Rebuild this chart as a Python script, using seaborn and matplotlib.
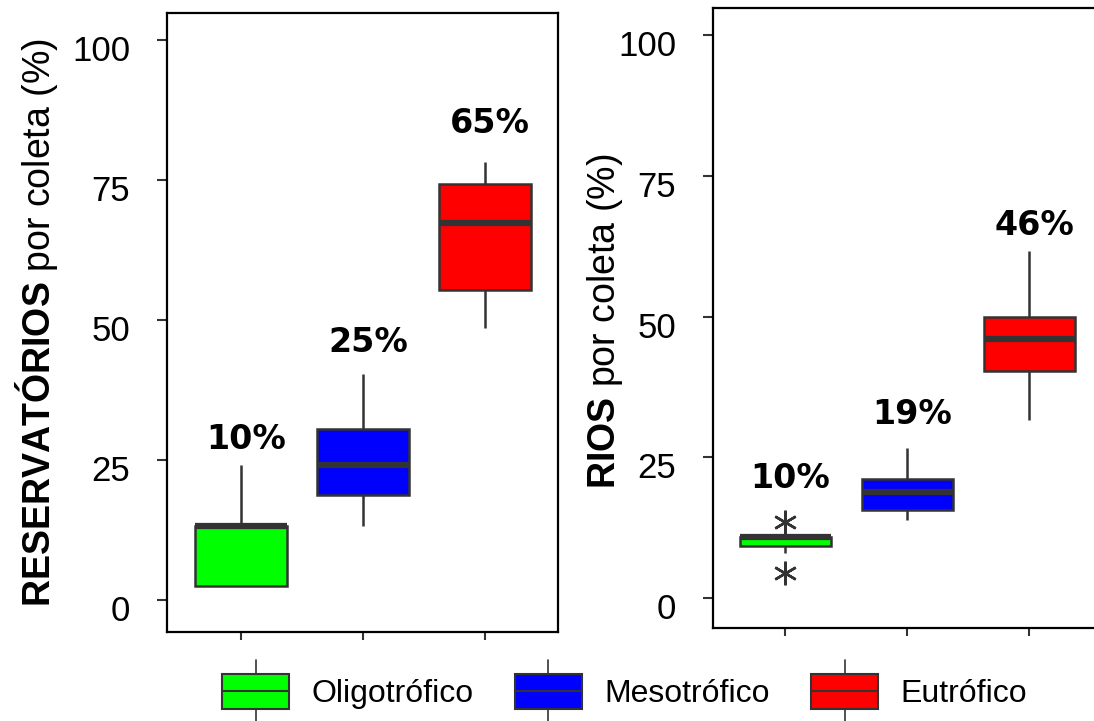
import numpy as np
import pandas as pd
import matplotlib
matplotlib.use('Agg')
import matplotlib.pyplot as plt
import matplotlib.transforms as mtransforms
import seaborn as sns
from matplotlib.patches import Patch, Rectangle
from matplotlib.lines import Line2D
from matplotlib.legend_handler import HandlerBase

# dados (min, q1, mediana, q3, max + outliers)
grupos = ['Oligotrófico', 'Mesotrófico', 'Eutrófico']
cores = ['#00FF00', '#0000FF', '#FF0000']

res_oligo = [2.5, 2.5, 13.3, 13.3, 24.1]
res_meso = [13.3, 18.8, 24.2, 30.6, 40.4]
res_eutro = [48.6, 55.4, 67.4, 74.3, 78.2]

rios_oligo = [4.5, 8.0, 9.3, 9.8, 10.9, 10.9, 10.9, 11.6, 13.6]
rios_meso = [13.8, 15.7, 18.9, 21.2, 26.6]
rios_eutro = [31.7, 40.4, 46.0, 49.9, 61.6]

rotulos_res = ['10%', '25%', '65%']
altura_res = [28.6, 45.9, 85.1]
rotulos_rios = ['10%', '19%', '46%']
altura_rios = [21.3, 32.6, 66.1]

def monta_df(listas):
    linhas = []
    for g, vals in zip(grupos, listas):
        for v in vals:
            linhas.append({'grupo': g, 'valor': v})
    return pd.DataFrame(linhas)

df_res = monta_df([res_oligo, res_meso, res_eutro])
df_rios = monta_df([rios_oligo, rios_meso, rios_eutro])

sns.set_style('white')
plt.rcParams['font.family'] = ['Liberation Sans', 'DejaVu Sans']
plt.rcParams['mathtext.fontset'] = 'custom'
plt.rcParams['mathtext.rm'] = 'Liberation Sans'
plt.rcParams['mathtext.bf'] = 'Liberation Sans:bold'
plt.rcParams['text.color'] = 'black'
plt.rcParams['axes.labelcolor'] = 'black'

fig = plt.figure(figsize=(10.94, 7.21), dpi=100)
ax1 = fig.add_axes([0.1527, 0.1234, 0.3574, 0.8585])
ax2 = fig.add_axes([0.6517, 0.1290, 0.3574, 0.8599])

cinza = '#333333'

def desenha(ax, df, rotulos, alturas, ylim, xlim):
    sns.boxplot(data=df, x='grupo', y='valor', hue='grupo', order=grupos,
                hue_order=grupos, palette=cores, saturation=1, width=0.75,
                linecolor=cinza, linewidth=1.8, showcaps=False, legend=False,
                medianprops={'linewidth': 4.5},
                whiskerprops={'linewidth': 1.8},
                flierprops={'marker': (6, 2, 0), 'markersize': 17,
                            'markeredgecolor': cinza, 'markeredgewidth': 1.8},
                ax=ax)
    for i, (r, h) in enumerate(zip(rotulos, alturas)):
        ax.text(i + 0.04, h, r, ha='center', va='center', fontsize=24,
                fontweight='bold', family='DejaVu Sans', color='black')
    ax.set_ylim(*ylim)
    ax.set_xlim(*xlim)
    ax.set_yticks([0, 25, 50, 75, 100])
    ax.set_xticks([0, 1, 2])
    ax.set_xticklabels([])
    ax.set_xlabel('')
    ax.tick_params(axis='y', left=True, length=7.5, width=1.5, color=cinza,
                   labelsize=25, pad=19, labelcolor='black')
    ax.tick_params(axis='x', bottom=True, length=6, width=1.5, color=cinza)
    for s in ax.spines.values():
        s.set_color('black')
        s.set_linewidth(1.6)
    # rotulos dos ticks ficam um pouco abaixo das marcas no original
    desloc = mtransforms.ScaledTranslation(0, -8 / 100, fig.dpi_scale_trans)
    for lab in ax.get_yticklabels():
        lab.set_transform(lab.get_transform() + desloc)

desenha(ax1, df_res, rotulos_res, altura_res, (-5.7, 104.8), (-0.607, 2.598))
desenha(ax2, df_rios, rotulos_rios, altura_rios, (-5.3, 104.8), (-0.593, 2.612))

ax1.set_ylabel(r'$\bf{RESERVATÓRIOS}$ por coleta (%)', fontsize=27)
ax1.yaxis.set_label_coords(-0.274, 0.5)
ax2.set_ylabel(r'$\bf{RIOS}$ por coleta (%)', fontsize=27)
ax2.yaxis.set_label_coords(-0.225, 0.494)


class CaixaHandler(HandlerBase):
    def create_artists(self, legend, orig_handle, xdescent, ydescent,
                       width, height, fontsize, trans):
        x0, y0 = -xdescent, -ydescent
        xm = x0 + width / 2
        caixa = Rectangle((x0, y0), width, height,
                          facecolor=orig_handle.get_facecolor(),
                          edgecolor=cinza, lw=1.5, transform=trans)
        mediana = Line2D([x0, x0 + width], [y0 + height / 2] * 2,
                         color=cinza, lw=1.5, transform=trans)
        sup = Line2D([xm, xm], [y0 + height, y0 + height * 1.38],
                     color=cinza, lw=1.2, transform=trans)
        inf = Line2D([xm, xm], [y0, y0 - height * 0.38],
                     color=cinza, lw=1.2, transform=trans)
        return [caixa, mediana, sup, inf]


handles = [Patch(facecolor=c, label=g) for g, c in zip(grupos, cores)]
fig.legend(handles=handles, loc='center', bbox_to_anchor=(0.571, 0.041),
           ncol=3, frameon=False, fontsize=23, handlelength=2.09,
           handleheight=1.33, handletextpad=0.7, columnspacing=1.3,
           borderpad=0, handler_map={Patch: CaixaHandler()})

fig.savefig('out.png', dpi=100)
